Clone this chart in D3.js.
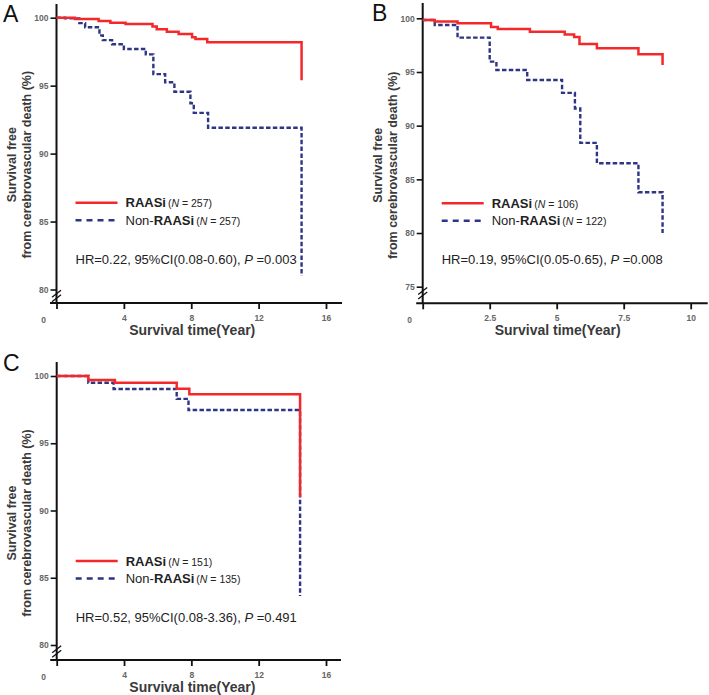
<!DOCTYPE html>
<html><head><meta charset="utf-8">
<script src="https://cdn.jsdelivr.net/npm/d3@7/dist/d3.min.js"></script>
<style>
body{margin:0;background:#fff}
svg{display:block}
text{font-family:"Liberation Sans",Arial,Helvetica,sans-serif}
</style>
</head><body>
<svg id="chart" width="709" height="695"></svg>
<script>
// ---------------- DATA ----------------
const panelLabels = ["A", "B", "C"];
const seriesNames = ["RAASi", "Non-RAASi"];
const nRAASi = [257, 106, 151];
const nNonRAASi = [257, 122, 135];
const hrTexts = ["HR=0.22, 95%CI(0.08-0.60), ", "HR=0.19, 95%CI(0.05-0.65), ", "HR=0.52, 95%CI(0.08-3.36), "];
const pTexts = [" =0.003", " =0.008", " =0.491"];

const yTicksAC = [80, 85, 90, 95, 100];
const yTicksB = [75, 80, 85, 90, 95, 100];
const xTicksAC = [0, 4, 8, 12, 16];
const xTicksB = [0, 2.5, 5, 7.5, 10];
const xTitle = "Survival time(Year)";
const yTitle1 = "Survival free";
const yTitle2 = "from cerebrovascular death (%)";

// Panel A
const timeA_RAASi = [0, 1.1, 2.5, 3.2, 4.1, 5.7, 5.95, 6.55, 7.25, 8.05, 8.25, 8.95, 14.55];
const survA_RAASi = [100, 99.9, 99.76, 99.63, 99.54, 99.35, 99.15, 98.97, 98.8, 98.56, 98.43, 98.2, 95.4];
const timeA_Non = [0, 0.5, 1.35, 1.7, 2.55, 2.75, 3.3, 4.0, 5.3, 5.75, 6.45, 7.0, 7.95, 8.15, 9.0, 14.55];
const survA_Non = [100, 99.95, 99.6, 99.3, 98.7, 98.35, 98.05, 97.7, 97.3, 95.85, 95.25, 94.55, 93.7, 93.0, 91.9, 81.0];
// Panel B
const timeB_RAASi = [0, 0.45, 1.3, 2.55, 2.8, 4.0, 5.3, 5.65, 5.85, 6.5, 8.05, 8.95];
const survB_RAASi = [99.84, 99.7, 99.55, 99.2, 99.0, 98.75, 98.5, 98.25, 97.6, 97.2, 96.65, 95.65];
const timeB_Non = [0, 0.45, 1.3, 2.5, 2.75, 3.9, 5.2, 5.68, 5.88, 6.5, 8.05, 8.95];
const survB_Non = [99.84, 99.38, 98.2, 95.96, 95.19, 94.26, 93.05, 91.6, 88.4, 86.5, 83.8, 80.0];
// Panel C
const timeC_RAASi = [0, 1.88, 3.46, 7.13, 7.88, 14.46];
const survC_RAASi = [100, 99.7, 99.5, 99.06, 98.64, 91.0];
const timeC_Non = [0, 1.88, 3.38, 7.13, 7.83, 14.46];
const survC_Non = [100, 99.5, 99.03, 98.3, 97.47, 83.64];

// ---------------- LAYOUT ----------------
const RED = "#f4282b", BLUE = "#2e3584";
const panels = [
  {label: panelLabels[0], left: 56.5, right: 326, yTop: 17.7, yBot: 289.5, axisY: 303, lineTop: 4, xExtra: 16,
   yDomain: [80, 100], xDomain: [0, 16], yTicks: yTicksAC, xTicks: xTicksAC,
   red: [timeA_RAASi, survA_RAASi], blue: [timeA_Non, survA_Non], letterX: 3, letterY: 22, idx: 0},
  {label: panelLabels[1], left: 422.7, right: 690.7, yTop: 18.3, yBot: 286.7, axisY: 303.3, lineTop: 3, xExtra: 17,
   yDomain: [75, 100], xDomain: [0, 10], yTicks: yTicksB, xTicks: xTicksB,
   red: [timeB_RAASi, survB_RAASi], blue: [timeB_Non, survB_Non], letterX: 372, letterY: 21, idx: 1},
  {label: panelLabels[2], left: 56.7, right: 326, yTop: 376, yBot: 645, axisY: 660, lineTop: 362, xExtra: 15,
   yDomain: [80, 100], xDomain: [0, 16], yTicks: yTicksAC, xTicks: xTicksAC,
   red: [timeC_RAASi, survC_RAASi], blue: [timeC_Non, survC_Non], letterX: 3, letterY: 371, idx: 2}
];

const svg = d3.select("#chart");
svg.append("rect").attr("width", 709).attr("height", 695).attr("fill", "#fff");

panels.forEach(p => {
  const g = svg.append("g");
  const x = d3.scaleLinear().domain(p.xDomain).range([p.left, p.right]);
  const y = d3.scaleLinear().domain(p.yDomain).range([p.yBot, p.yTop]);

  g.append("text").attr("x", p.letterX).attr("y", p.letterY).attr("font-size", 23)
    .attr("fill", "#111").text(p.label);

  const ya = g.append("g").attr("transform", `translate(${p.left},0)`)
    .call(d3.axisLeft(y).tickValues(p.yTicks).tickSize(6).tickPadding(2).tickSizeOuter(0));
  ya.select(".domain").remove();
  ya.selectAll(".tick line").attr("stroke", "#111").attr("stroke-width", 1.6);
  ya.selectAll(".tick text").attr("font-size", 8.5).attr("font-weight", "bold").attr("fill", "#666")
    .attr("font-family", "Liberation Sans, Arial, sans-serif");

  const xa = g.append("g").attr("transform", `translate(0,${p.axisY})`)
    .call(d3.axisBottom(x).tickValues(p.xTicks).tickSize(6).tickPadding(6).tickSizeOuter(0)
      .tickFormat(d => d === 0 ? "" : d3.format("~g")(d)));
  xa.select(".domain").remove();
  xa.selectAll(".tick line").attr("stroke", "#111").attr("stroke-width", 1.8);
  xa.selectAll(".tick text").attr("font-size", 8.5).attr("font-weight", "bold").attr("fill", "#666")
    .attr("font-family", "Liberation Sans, Arial, sans-serif");
  g.append("text").attr("x", p.left - 13).attr("y", p.axisY + 19.5).attr("text-anchor", "middle")
    .attr("font-size", 8.5).attr("font-weight", "bold").attr("fill", "#666").text("0");

  g.append("line").attr("x1", p.left).attr("x2", p.left).attr("y1", p.lineTop).attr("y2", p.axisY)
    .attr("stroke", "#111").attr("stroke-width", 2);
  g.append("line").attr("x1", p.left - 6.5).attr("x2", p.right + p.xExtra).attr("y1", p.axisY).attr("y2", p.axisY)
    .attr("stroke", "#111").attr("stroke-width", 2);

  const bc = p.yBot + 6.5;
  [-2.2, 2.2].forEach(o => {
    g.append("line").attr("x1", p.left - 4.5).attr("y1", bc + o + 3.5)
      .attr("x2", p.left + 4.5).attr("y2", bc + o - 3.5)
      .attr("stroke", "#111").attr("stroke-width", 1.3);
  });

  g.append("text").attr("x", (x(p.xDomain[0]) + x(p.xDomain[1])) / 2 + 1).attr("y", p.axisY + 32)
    .attr("text-anchor", "middle").attr("font-size", 14).attr("font-weight", "bold").attr("fill", "#3a3a3a")
    .text(xTitle);
  const yc = p.yTop + 147;
  g.append("text").attr("transform", `translate(${p.left - 41},${yc}) rotate(-90)`)
    .attr("text-anchor", "middle").attr("font-size", 12.5).attr("font-weight", "bold").attr("fill", "#3a3a3a")
    .text(yTitle1);
  g.append("text").attr("transform", `translate(${p.left - 25.5},${yc}) rotate(-90)`)
    .attr("text-anchor", "middle").attr("font-size", 12.5).attr("font-weight", "bold").attr("fill", "#3a3a3a")
    .text(yTitle2);

  const line = d3.line().x(d => x(d[0])).y(d => y(d[1])).curve(d3.curveStepAfter);
  const redPts = d3.zip(p.red[0], p.red[1]);
  const bluePts = d3.zip(p.blue[0], p.blue[1]);
  g.append("path").attr("d", line(bluePts)).attr("fill", "none").attr("stroke", BLUE)
    .attr("stroke-width", 2.4).attr("stroke-dasharray", "4.5,2.3");
  g.append("path").attr("d", line(redPts)).attr("fill", "none").attr("stroke", RED)
    .attr("stroke-width", 2.5);

  const lx = p.left + 19, ly = p.yTop + 185;
  g.append("line").attr("x1", lx).attr("x2", lx + 42).attr("y1", ly).attr("y2", ly)
    .attr("stroke", RED).attr("stroke-width", 2.5);
  g.append("line").attr("x1", lx).attr("x2", lx + 42).attr("y1", ly + 17.5).attr("y2", ly + 17.5)
    .attr("stroke", BLUE).attr("stroke-width", 2.5).attr("stroke-dasharray", "6,5");
  const t1 = g.append("text").attr("x", lx + 50).attr("y", ly + 4.5).attr("font-size", 13).attr("fill", "#222");
  t1.append("tspan").attr("font-weight", "bold").text(seriesNames[0]);
  t1.append("tspan").attr("font-size", 10.5).attr("dx", 2).text("(");
  t1.append("tspan").attr("font-size", 10.5).attr("font-style", "italic").text("N");
  t1.append("tspan").attr("font-size", 10.5).text(" = " + nRAASi[p.idx] + ")");
  const t2 = g.append("text").attr("x", lx + 50).attr("y", ly + 22).attr("font-size", 13).attr("fill", "#222");
  t2.append("tspan").text("Non-");
  t2.append("tspan").attr("font-weight", "bold").text("RAASi");
  t2.append("tspan").attr("font-size", 10.5).attr("dx", 2).text("(");
  t2.append("tspan").attr("font-size", 10.5).attr("font-style", "italic").text("N");
  t2.append("tspan").attr("font-size", 10.5).text(" = " + nNonRAASi[p.idx] + ")");

  const hr = g.append("text").attr("x", lx).attr("y", p.yTop + 246).attr("font-size", 13).attr("fill", "#222");
  hr.append("tspan").text(hrTexts[p.idx]);
  hr.append("tspan").attr("font-style", "italic").text("P");
  hr.append("tspan").text(pTexts[p.idx]);
});
</script>
</body></html>
